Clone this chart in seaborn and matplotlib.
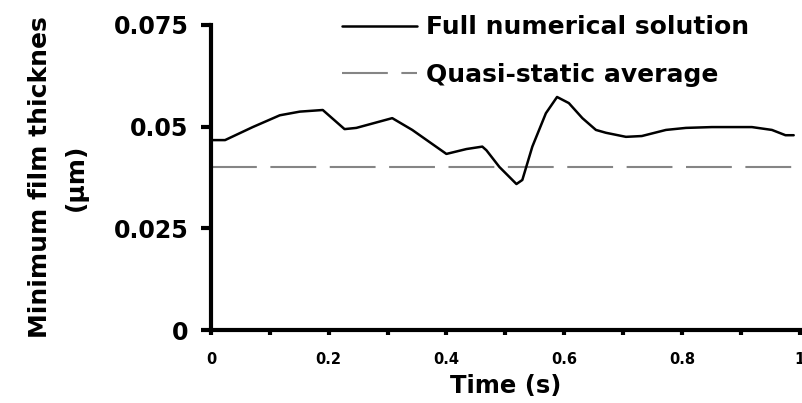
import matplotlib
matplotlib.use('Agg')
import matplotlib.pyplot as plt
import pandas as pd
import seaborn as sns

# data
time_s = [0.0, 0.024, 0.071, 0.117, 0.151, 0.19, 0.227, 0.247, 0.308, 0.342,
          0.40, 0.434, 0.461, 0.468, 0.49, 0.519, 0.529, 0.546, 0.569, 0.588,
          0.608, 0.631, 0.654, 0.671, 0.705, 0.732, 0.773, 0.807, 0.851,
          0.919, 0.953, 0.976, 0.99]
film_um = [0.0467, 0.0467, 0.0499, 0.0528, 0.0537, 0.0541, 0.0494, 0.0497,
           0.0521, 0.0492, 0.0433, 0.0445, 0.0451, 0.0442, 0.0401, 0.0359,
           0.0369, 0.0451, 0.0533, 0.0573, 0.0558, 0.0521, 0.0492, 0.0485,
           0.0475, 0.0477, 0.0492, 0.0497, 0.0499, 0.0499, 0.0492, 0.0479,
           0.0479]
avg_time = [0.0, 1.0]
avg_film = [0.0401, 0.0401]
x_ticks = [0, 0.2, 0.4, 0.6, 0.8, 1]
x_tick_labels = ['0', '0.2', '0.4', '0.6', '0.8', '1']
y_ticks = [0, 0.025, 0.05, 0.075]
y_tick_labels = ['0', '0.025', '0.05', '0.075']

sns.set_style('ticks', {'axes.edgecolor': 'black', 'text.color': 'black',
                        'xtick.color': 'black', 'ytick.color': 'black',
                        'axes.labelcolor': 'black'})
plt.rcParams['font.family'] = ['DejaVu Sans']
plt.rcParams['font.weight'] = 'bold'

fig = plt.figure(figsize=(8.02, 4.03), dpi=100)
ax = fig.add_axes([0.263, 0.181, 0.734, 0.757])

full = pd.DataFrame({'t': time_s, 'h': film_um})
avg = pd.DataFrame({'t': avg_time, 'h': avg_film})

sns.lineplot(data=avg, x='t', y='h', ax=ax, color='#858585', linewidth=1.5,
             linestyle=(0, (22, 6.5)), label='Quasi-static average')
sns.lineplot(data=full, x='t', y='h', ax=ax, color='black', linewidth=1.8,
             label='Full numerical solution')

ax.set_xlim(0, 1)
ax.set_ylim(0, 0.075)
ax.set_xticks(x_ticks)
ax.set_xticklabels(x_tick_labels, fontsize=10.5, fontweight='bold')
ax.set_xticks([0.1, 0.3, 0.5, 0.7, 0.9], minor=True)
ax.set_yticks(y_ticks)
ax.set_yticklabels(y_tick_labels, fontsize=17, fontweight='bold')
ax.tick_params(axis='y', length=7, width=3, pad=9)
ax.tick_params(axis='x', which='both', length=3.5, width=3, pad=12)

ax.set_xlabel('Time (s)', fontsize=17.5, fontweight='bold', labelpad=5)
ax.set_ylabel('Minimum film thicknes\n(\u03bcm)', fontsize=18,
              fontweight='bold', labelpad=19, linespacing=1.6)

for side in ['left', 'bottom']:
    ax.spines[side].set_linewidth(3)
sns.despine(ax=ax)

# legend: solid line first
handles, labels = ax.get_legend_handles_labels()
ax.legend(handles[::-1], labels[::-1], loc='upper left',
          bbox_to_anchor=(0.405, 1.005), bbox_transform=fig.transFigure,
          frameon=False, prop={'size': 18, 'weight': 'bold'},
          handlelength=3.0, handletextpad=0.35, labelspacing=0.95,
          borderpad=0.2)

fig.savefig('out.png', dpi=100, facecolor='white')
